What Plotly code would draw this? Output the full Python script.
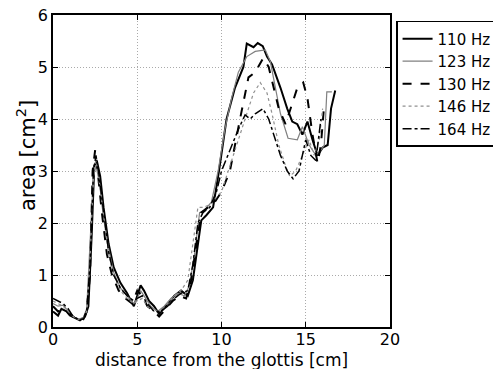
import plotly.graph_objects as go

x110 = [0,0.3,0.5,0.8,1.0,1.3,1.6,1.9,2.1,2.3,2.45,2.6,2.8,3.0,3.3,3.6,4.0,4.4,4.8,5.0,5.2,5.4,5.7,6.0,6.3,6.8,7.2,7.6,8.0,8.3,8.6,8.8,9.1,9.5,9.85,10.3,10.8,11.3,11.5,11.9,12.15,12.45,12.7,13.0,13.5,13.9,14.2,14.5,14.8,15.1,15.4,15.7,16.0,16.3,16.5,16.75]
y110 = [0.3,0.22,0.35,0.3,0.22,0.17,0.13,0.2,0.4,1.8,3.1,3.2,2.9,2.3,1.6,1.15,0.85,0.65,0.4,0.6,0.8,0.7,0.5,0.4,0.25,0.45,0.6,0.7,0.6,0.9,1.6,2.05,2.15,2.3,3.0,4.0,4.6,5.0,5.45,5.38,5.46,5.4,5.2,5.05,4.6,4.2,3.95,3.9,3.7,3.95,3.6,3.3,3.45,3.5,4.2,4.55]

x123 = [0,0.3,0.6,0.9,1.2,1.5,1.8,2.0,2.2,2.4,2.55,2.75,3.0,3.3,3.6,4.0,4.4,4.8,5.0,5.2,5.5,5.8,6.2,6.6,7.0,7.4,7.8,8.1,8.4,8.7,9.0,9.4,9.8,10.2,10.6,11.0,11.5,12.0,12.6,12.9,13.2,13.5,13.95,14.5,14.8,15.2,15.6,15.9,16.1,16.25,16.55]
y123 = [0.45,0.4,0.42,0.3,0.2,0.15,0.18,0.35,1.5,2.9,3.1,2.8,2.1,1.5,1.05,0.75,0.6,0.45,0.55,0.7,0.55,0.4,0.3,0.4,0.55,0.65,0.6,0.8,1.4,2.2,2.25,2.4,3.0,3.8,4.4,4.9,5.2,5.3,5.33,5.1,4.6,4.1,3.63,3.6,3.85,3.5,3.3,3.4,3.5,4.52,4.52]

x130 = [0,0.3,0.6,0.9,1.2,1.5,1.8,2.0,2.2,2.35,2.5,2.65,2.9,3.2,3.5,3.9,4.3,4.7,5.0,5.3,5.6,6.0,6.3,6.7,7.1,7.5,7.9,8.2,8.5,8.8,9.2,9.6,10.0,10.5,11.1,11.6,12.0,12.47,12.8,13.1,13.4,13.8,14.2,14.5,14.85,15.1,15.4,15.7,15.9,16.1]
y130 = [0.4,0.3,0.35,0.28,0.2,0.15,0.15,0.3,1.0,3.0,3.4,3.0,2.2,1.4,1.0,0.7,0.55,0.45,0.7,0.6,0.4,0.3,0.2,0.35,0.5,0.6,0.55,0.9,1.6,2.2,2.3,2.4,2.6,3.0,4.0,4.8,4.9,5.17,5.0,4.6,4.2,3.9,4.3,4.6,4.7,4.4,3.7,3.15,3.5,4.3]

x146 = [0,0.3,0.6,0.9,1.2,1.5,1.8,2.0,2.2,2.4,2.55,2.7,3.0,3.3,3.6,4.0,4.4,4.8,5.0,5.3,5.6,6.0,6.4,6.8,7.2,7.6,8.0,8.3,8.6,8.9,9.3,9.7,10.0,10.5,11.0,11.5,11.9,12.3,12.7,13.0,13.4,13.8,14.05,14.4,14.8,15.2,15.5,15.8,16.0]
y146 = [0.5,0.45,0.4,0.3,0.2,0.15,0.18,0.3,1.3,2.9,3.2,2.9,2.1,1.4,1.0,0.7,0.55,0.45,0.5,0.55,0.4,0.3,0.3,0.45,0.6,0.7,0.9,1.6,2.3,2.3,2.35,2.5,2.6,3.1,3.6,4.1,4.5,4.7,4.5,4.1,3.5,3.1,2.9,3.0,3.3,3.6,3.3,3.6,4.2]

x164 = [0,0.3,0.6,0.9,1.2,1.5,1.8,2.0,2.2,2.4,2.55,2.7,3.0,3.3,3.6,4.0,4.4,4.8,5.0,5.3,5.6,6.0,6.4,6.8,7.2,7.6,8.0,8.3,8.6,8.9,9.3,9.7,10.0,10.5,11.0,11.4,11.7,12.0,12.46,12.8,13.1,13.5,13.9,14.25,14.6,15.0,15.3,15.6,15.9]
y164 = [0.55,0.5,0.45,0.35,0.2,0.15,0.15,0.3,1.2,3.0,3.3,3.0,2.2,1.45,1.0,0.75,0.6,0.5,0.55,0.6,0.45,0.3,0.3,0.4,0.55,0.65,0.7,1.2,2.0,2.2,2.3,2.6,3.0,3.4,3.8,4.08,4.0,4.1,4.2,4.0,3.7,3.3,3.0,2.85,3.0,3.6,3.3,3.2,4.0]

names = ["110 Hz", "123 Hz", "130 Hz", "146 Hz", "164 Hz"]
xticks = [0, 5, 10, 15, 20]
yticks = [0, 1, 2, 3, 4, 5, 6]
xtitle = "distance from the glottis [cm]"
ytitle = "area [cm<sup>2</sup>]"

series = [(x110, y110), (x123, y123), (x130, y130), (x146, y146), (x164, y164)]
styles = [
    dict(color="black", width=2, dash="solid"),
    dict(color="#808080", width=1.2, dash="solid"),
    dict(color="black", width=2, dash="dash"),
    dict(color="#909090", width=1.2, dash="dot"),
    dict(color="black", width=1.5, dash="dashdot"),
]

fig = go.Figure()
for (xs, ys), nm, st in zip(series, names, styles):
    fig.add_trace(go.Scatter(x=xs, y=ys, mode="lines", name=nm, line=st))

fam = "DejaVu Sans, Verdana, sans-serif"
tickfont = dict(family=fam, size=16, color="black")
axis_common = dict(
    showline=True, linecolor="black", linewidth=1.5, mirror="ticks",
    ticks="inside", ticklen=5, tickcolor="black",
    showgrid=True, gridcolor="#aaaaaa", griddash="1px,2px", gridwidth=1,
    zeroline=False, tickfont=tickfont, automargin=False,
    ticklabeloverflow="allow",
)
fig.update_xaxes(range=[0, 20], tickvals=xticks, ticklabelstandoff=-3, **axis_common)
fig.update_yaxes(range=[0, 6], tickvals=yticks, **axis_common)

fig.add_annotation(text=xtitle, xref="paper", yref="paper", x=0.5, y=-0.106,
                   xanchor="center", yanchor="middle", showarrow=False,
                   font=dict(family=fam, size=17, color="black"))
fig.add_annotation(text=ytitle, xref="paper", yref="paper", x=-0.08, y=0.548,
                   xanchor="center", yanchor="middle", showarrow=False, textangle=-90,
                   font=dict(family=fam, size=21, color="black"))

fig.update_layout(
    width=501, height=369,
    margin=dict(l=45, r=119, t=7, b=50),
    plot_bgcolor="white", paper_bgcolor="white",
    font=dict(family=fam, size=16, color="black"),
    legend=dict(x=1.018, y=0.981, xanchor="left", yanchor="top",
                bordercolor="black", borderwidth=1.5, bgcolor="white",
                font=dict(family=fam, size=15, color="black"),
                tracegroupgap=0, itemwidth=30),
)
fig.write_html("out.html")
